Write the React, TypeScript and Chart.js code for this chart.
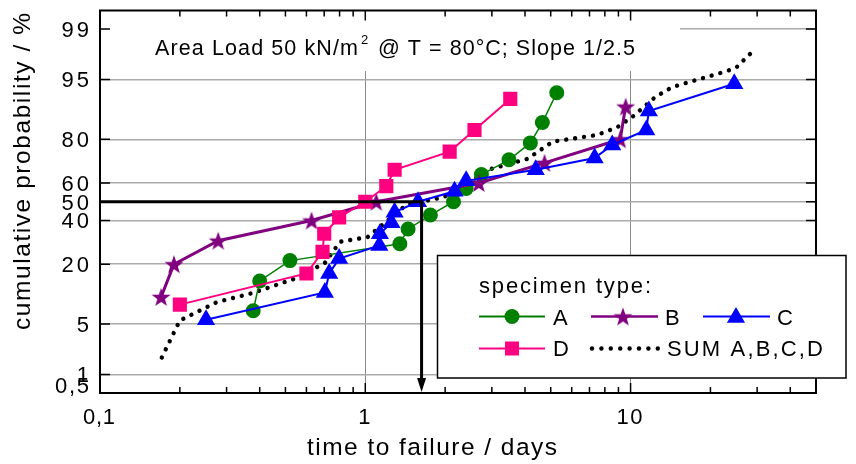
import React, { useEffect, useRef } from 'react';
import { Chart, registerables } from 'chart.js';

Chart.register(...registerables);

// ---------- data (time to failure in days, cumulative probability in %) ----------
const timesA = [0.378, 0.40, 0.52, 1.35, 1.45, 1.76, 2.15, 2.40, 2.74, 3.48, 4.19, 4.65, 5.27];
const probA = [7.1, 14.3, 21.4, 28.6, 35.7, 42.9, 50.0, 57.1, 64.3, 71.4, 78.6, 85.7, 92.9];

const timesB = [0.170, 0.190, 0.279, 0.627, 1.10, 2.68, 4.74, 9.14, 9.58];
const probB = [10, 20, 30, 40, 50, 60, 70, 80, 90];

const timesC = [0.251, 0.704, 0.731, 0.797, 1.13, 1.135, 1.255, 1.29, 1.58, 2.17, 2.40, 4.39, 7.32, 8.53, 11.46, 11.72, 24.6];
const probC = [5.6, 11.1, 16.7, 22.2, 27.8, 33.3, 38.9, 44.4, 50.0, 55.6, 61.1, 66.7, 72.2, 77.8, 83.3, 88.9, 94.4];

const timesD = [0.200, 0.600, 0.69, 0.70, 0.797, 1.00, 1.20, 1.29, 2.08, 2.58, 3.52];
const probD = [8.3, 16.7, 25.0, 33.3, 41.7, 50.0, 58.3, 66.7, 75.0, 83.3, 91.7];

const timesSum = [0.171, 0.200, 0.275, 0.378, 0.559, 0.705, 0.803, 1.02, 1.43, 1.97, 3.00, 4.08, 5.09, 7.49, 8.86, 10.3, 12.4, 14.4, 23.2, 25.1, 29.4];
const probSum = [1.8, 5.5, 8.8, 11.0, 15.4, 20.6, 29.5, 31.7, 48.4, 52.4, 67.2, 71.8, 79.1, 81.6, 84.1, 87.7, 92.1, 93.9, 96.1, 96.5, 98.0];

const medianTime = 1.63;
const medianProb = 50;

const yTickProbs = [99, 95, 80, 60, 50, 40, 20, 5, 1, 0.5];
const yTickLabels = ['99', '95', '80', '60', '50', '40', '20', '5', '1', '0,5'];
const xMajorTicks = [0.1, 1, 10];
const xTickLabels = ['0,1', '1', '10'];
const xMinorTicks = [0.2, 0.3, 0.4, 0.5, 0.6, 0.7, 0.8, 0.9, 2, 3, 4, 5, 6, 7, 8, 9, 20, 30, 40];
const xMin = 0.1;
const xMax = 50;
const pMin = 0.5;
const pMax = 99.5;

const titleMain = 'Area Load 50 kN/m';
const titleSup = '2';
const titleRest = '@ T = 80°C; Slope 1/2.5';
const xTitle = 'time to failure / days';
const yTitle = 'cumulative probability / %';
const legendTitle = 'specimen type:';
const seriesNames = ['A', 'B', 'C', 'D', 'SUM A,B,C,D'];

// ---------- colours ----------
const GREEN = '#008000';
const PURPLE = '#800080';
const BLUE = '#0000ff';
const PINK = '#ff0080';
const FONT = '"Liberation Sans", Arial, Helvetica, sans-serif';

// inverse normal CDF (Acklam)
function probit(p: number): number {
  const a = [-3.969683028665376e1, 2.209460984245205e2, -2.759285104469687e2, 1.38357751867269e2, -3.066479806614716e1, 2.506628277459239];
  const b = [-5.447609879822406e1, 1.615858368580409e2, -1.556989798598866e2, 6.680131188771972e1, -1.328068155288572e1];
  const c = [-7.784894002430293e-3, -3.223964580411365e-1, -2.400758277161838, -2.549732539343734, 4.374664141464968, 2.938163982698783];
  const d = [7.784695709041462e-3, 3.224671290700398e-1, 2.445134137142996, 3.754408661907416];
  const plow = 0.02425;
  if (p < plow) {
    const q = Math.sqrt(-2 * Math.log(p));
    return (((((c[0] * q + c[1]) * q + c[2]) * q + c[3]) * q + c[4]) * q + c[5]) / ((((d[0] * q + d[1]) * q + d[2]) * q + d[3]) * q + 1);
  }
  if (p > 1 - plow) {
    const q = Math.sqrt(-2 * Math.log(1 - p));
    return -(((((c[0] * q + c[1]) * q + c[2]) * q + c[3]) * q + c[4]) * q + c[5]) / ((((d[0] * q + d[1]) * q + d[2]) * q + d[3]) * q + 1);
  }
  const q = p - 0.5;
  const r = q * q;
  return ((((((a[0] * r + a[1]) * r + a[2]) * r + a[3]) * r + a[4]) * r + a[5]) * q) / (((((b[0] * r + b[1]) * r + b[2]) * r + b[3]) * r + b[4]) * r + 1);
}

const toPoints = (t: number[], p: number[]) => t.map((v, i) => ({ x: v, y: probit(p[i] / 100) }));

function starPath(ctx: CanvasRenderingContext2D, cx: number, cy: number, R: number, r: number) {
  ctx.beginPath();
  for (let i = 0; i < 10; i++) {
    const ang = -Math.PI / 2 + (i * Math.PI) / 5;
    const rad = i % 2 === 0 ? R : r;
    const px = cx + Math.cos(ang) * rad;
    const py = cy + Math.sin(ang) * rad;
    if (i === 0) ctx.moveTo(px, py);
    else ctx.lineTo(px, py);
  }
  ctx.closePath();
}

function makeStar(): HTMLCanvasElement {
  const c = document.createElement('canvas');
  c.width = 24;
  c.height = 24;
  const g = c.getContext('2d')!;
  g.fillStyle = PURPLE;
  starPath(g, 12, 12.9, 10, 4.0);
  g.fill();
  return c;
}

function drawFit(ctx: CanvasRenderingContext2D, text: string, x: number, y: number, size: number, target: number, align: string): number {
  ctx.font = `${size}px ${FONT}`;
  (ctx as any).letterSpacing = '0px';
  const w0 = ctx.measureText(text).width;
  const n = Array.from(text).length;
  const sp = n > 1 && target > 0 ? (target - w0) / (n - 1) : 0;
  (ctx as any).letterSpacing = `${sp}px`;
  const w = w0 + sp * (n - 1);
  const x0 = align === 'center' ? x - w / 2 : align === 'right' ? x - w : x;
  ctx.textAlign = 'left';
  ctx.textBaseline = 'alphabetic';
  ctx.fillText(text, x0, y);
  (ctx as any).letterSpacing = '0px';
  return w;
}

function makeOverlay(star: HTMLCanvasElement) {
  return {
    id: 'overlay',
    beforeDatasetsDraw(chart: any) {
      const { ctx, chartArea: ca } = chart;
      ctx.save();
      // white background of the title
      ctx.fillStyle = '#fff';
      ctx.fillRect(ca.left + 1, ca.top + 1, 680 - ca.left - 1, 71 - ca.top - 1);
      ctx.fillStyle = '#000';
      const w = drawFit(ctx, titleMain, 155, 55, 21.5, 203, 'left');
      drawFit(ctx, titleSup, 155 + w + 3, 44, 13, 0, 'left');
      drawFit(ctx, titleRest, 378, 55, 21.5, 257, 'left');
      ctx.restore();
    },
    afterDatasetsDraw(chart: any) {
      const { ctx, chartArea: ca } = chart;
      const xs = chart.scales.x;
      const ys = chart.scales.y;
      ctx.save();
      // median marker line + arrow
      const mx = xs.getPixelForValue(medianTime);
      const my = ys.getPixelForValue(probit(medianProb / 100));
      ctx.strokeStyle = '#000';
      ctx.fillStyle = '#000';
      ctx.lineWidth = 3;
      ctx.beginPath();
      ctx.moveTo(ca.left, my);
      ctx.lineTo(mx + 1.5, my);
      ctx.moveTo(mx, my);
      ctx.lineTo(mx, ca.bottom - 12);
      ctx.stroke();
      ctx.beginPath();
      ctx.moveTo(mx - 4.5, ca.bottom - 15);
      ctx.lineTo(mx + 4.5, ca.bottom - 15);
      ctx.lineTo(mx, ca.bottom - 1);
      ctx.closePath();
      ctx.fill();

      // frame
      ctx.lineWidth = 2;
      ctx.strokeRect(ca.left, ca.top, ca.right - ca.left, ca.bottom - ca.top);

      // tick marks (inside)
      ctx.lineWidth = 1.5;
      ctx.beginPath();
      for (const v of xMajorTicks) {
        const px = xs.getPixelForValue(v);
        ctx.moveTo(px, ca.bottom); ctx.lineTo(px, ca.bottom - 10);
        ctx.moveTo(px, ca.top); ctx.lineTo(px, ca.top + 10);
      }
      for (const v of xMinorTicks) {
        const px = xs.getPixelForValue(v);
        ctx.moveTo(px, ca.bottom); ctx.lineTo(px, ca.bottom - 6);
        ctx.moveTo(px, ca.top); ctx.lineTo(px, ca.top + 6);
      }
      for (const p of yTickProbs) {
        const py = ys.getPixelForValue(probit(p / 100));
        ctx.moveTo(ca.left, py); ctx.lineTo(ca.left + 10, py);
        ctx.moveTo(ca.right, py); ctx.lineTo(ca.right - 10, py);
      }
      ctx.stroke();

      // tick labels
      ctx.fillStyle = '#000';
      xMajorTicks.forEach((v, i) => {
        const px = xs.getPixelForValue(v);
        const lab = xTickLabels[i];
        const tgt = lab === '0,1' ? 32 : lab.length === 2 ? 26 : 0;
        drawFit(ctx, lab, px - 1, 424, 22, tgt, 'center');
      });
      yTickProbs.forEach((p, i) => {
        const py = ys.getPixelForValue(probit(p / 100));
        const lab = yTickLabels[i];
        const base = p === pMin ? ca.bottom : py + 7.8;
        const tgt = lab.length === 2 ? 27.5 : lab.length === 3 ? 34 : 0;
        drawFit(ctx, lab, 89, base, 22, tgt, 'right');
      });

      // axis titles
      drawFit(ctx, xTitle, 432, 455, 24.5, 250, 'center');
      ctx.save();
      ctx.translate(30, 171.5);
      ctx.rotate(-Math.PI / 2);
      drawFit(ctx, yTitle, 0, 0, 24.5, 317, 'center');
      ctx.restore();
      ctx.restore();
    },
    afterDraw(chart: any) {
      const { ctx } = chart;
      ctx.save();
      // legend box
      ctx.fillStyle = '#fff';
      ctx.fillRect(437, 255, 409, 123);
      ctx.strokeStyle = '#000';
      ctx.lineWidth = 1.5;
      ctx.strokeRect(437.5, 255.5, 408.5, 122.5);
      ctx.fillStyle = '#000';
      drawFit(ctx, legendTitle, 479, 293, 22, 172, 'left');

      const r1 = 316.5;
      const r2 = 348.5;
      // A
      ctx.strokeStyle = GREEN; ctx.lineWidth = 2;
      ctx.beginPath(); ctx.moveTo(479, r1); ctx.lineTo(545, r1); ctx.stroke();
      ctx.fillStyle = GREEN;
      ctx.beginPath(); ctx.arc(512, r1, 7.5, 0, Math.PI * 2); ctx.fill();
      // B
      ctx.strokeStyle = PURPLE; ctx.lineWidth = 2.5;
      ctx.beginPath(); ctx.moveTo(591, r1); ctx.lineTo(658, r1); ctx.stroke();
      ctx.drawImage(star, 623 - star.width / 2, r1 - star.height / 2);
      // C
      ctx.strokeStyle = BLUE; ctx.lineWidth = 2;
      ctx.beginPath(); ctx.moveTo(703, r1); ctx.lineTo(770, r1); ctx.stroke();
      ctx.fillStyle = BLUE;
      const tr = 10.5;
      const tcy = r1 + 1;
      ctx.beginPath();
      ctx.moveTo(736, tcy - tr);
      ctx.lineTo(736 + tr * Math.sin((2 * Math.PI) / 3), tcy - tr * Math.cos((2 * Math.PI) / 3));
      ctx.lineTo(736 + tr * Math.sin((4 * Math.PI) / 3), tcy - tr * Math.cos((4 * Math.PI) / 3));
      ctx.closePath(); ctx.fill();
      // D
      ctx.strokeStyle = PINK; ctx.lineWidth = 2;
      ctx.beginPath(); ctx.moveTo(479, r2); ctx.lineTo(545, r2); ctx.stroke();
      ctx.fillStyle = PINK;
      ctx.fillRect(512 - 7, r2 - 7, 14, 14);
      // SUM
      ctx.fillStyle = '#000';
      for (let i = 0; i < 8; i++) {
        ctx.beginPath(); ctx.arc(592 + i * 9.4, r2, 2.2, 0, Math.PI * 2); ctx.fill();
      }
      ctx.fillStyle = '#000';
      drawFit(ctx, seriesNames[0], 553, 325, 22, 0, 'left');
      drawFit(ctx, seriesNames[1], 665, 325, 22, 0, 'left');
      drawFit(ctx, seriesNames[2], 777, 325, 22, 0, 'left');
      drawFit(ctx, seriesNames[3], 553, 356, 22, 0, 'left');
      drawFit(ctx, seriesNames[4], 667, 356, 22, 156, 'left');
      ctx.restore();
    },
  };
}

export default function App() {
  const ref = useRef<HTMLCanvasElement | null>(null);
  useEffect(() => {
    const canvas = ref.current;
    if (!canvas) return;
    const star = makeStar();
    const zMin = probit(pMin / 100);
    const zMax = probit(pMax / 100);
    const chart = new Chart(canvas, {
      type: 'scatter',
      data: {
        datasets: [
          {
            label: seriesNames[2], data: toPoints(timesC, probC), showLine: true, order: 0,
            borderColor: BLUE, borderWidth: 2, backgroundColor: BLUE,
            pointStyle: 'triangle', pointRadius: 10.5, pointBorderWidth: 0,
          },
          {
            label: seriesNames[3], data: toPoints(timesD, probD), showLine: true, order: 1,
            borderColor: PINK, borderWidth: 2, backgroundColor: PINK,
            pointStyle: 'rect', pointRadius: 10, pointBorderWidth: 0,
          },
          {
            label: seriesNames[1], data: toPoints(timesB, probB), showLine: true, order: 2,
            borderColor: PURPLE, borderWidth: 3, backgroundColor: PURPLE,
            pointStyle: star as any, pointRadius: 9, pointBorderWidth: 0,
          },
          {
            label: seriesNames[0], data: toPoints(timesA, probA), showLine: true, order: 3,
            borderColor: GREEN, borderWidth: 1.5, backgroundColor: GREEN,
            pointStyle: 'circle', pointRadius: 7.5, pointBorderWidth: 0,
          },
          {
            label: seriesNames[4], data: toPoints(timesSum, probSum), showLine: true, order: 4,
            borderColor: '#000', borderWidth: 4.4, borderDash: [0.01, 9], borderCapStyle: 'round',
            borderJoinStyle: 'round', pointRadius: 0, backgroundColor: '#000',
          } as any,
        ],
      },
      options: {
        animation: false,
        responsive: false,
        devicePixelRatio: 1,
        events: [],
        layout: { padding: { top: 8, right: 40, bottom: 0, left: 0 } },
        plugins: { legend: { display: false }, tooltip: { enabled: false }, title: { display: false } },
        scales: {
          x: {
            type: 'logarithmic',
            min: xMin,
            max: xMax,
            position: 'bottom',
            afterBuildTicks: (s: any) => { s.ticks = xMajorTicks.map((v) => ({ value: v })); },
            afterFit: (s: any) => { s.height = 71; },
            ticks: { display: false },
            border: { display: false },
            grid: {
              drawTicks: false,
              lineWidth: 1,
              color: (c: any) => (c.tick && (c.tick.value === 1 || c.tick.value === 10) ? '#8a8a8a' : 'rgba(0,0,0,0)'),
            },
          },
          y: {
            type: 'linear',
            min: zMin,
            max: zMax,
            afterBuildTicks: (s: any) => { s.ticks = yTickProbs.map((p) => ({ value: probit(p / 100) })); },
            afterFit: (s: any) => { s.width = 100; },
            ticks: { display: false },
            border: { display: false },
            grid: {
              drawTicks: false,
              lineWidth: 1.5,
              color: (c: any) => (c.tick && Math.abs(c.tick.value - zMin) < 1e-6 ? 'rgba(0,0,0,0)' : '#aaaaaa'),
            },
          },
        },
      } as any,
      plugins: [makeOverlay(star)],
    });
    return () => chart.destroy();
  }, []);
  return (
    <div style={{ position: 'fixed', left: 0, top: 0, width: 856, height: 464, background: '#fff' }}>
      <canvas ref={ref} width={856} height={464} style={{ display: 'block', width: 856, height: 464 }} />
    </div>
  );
}
